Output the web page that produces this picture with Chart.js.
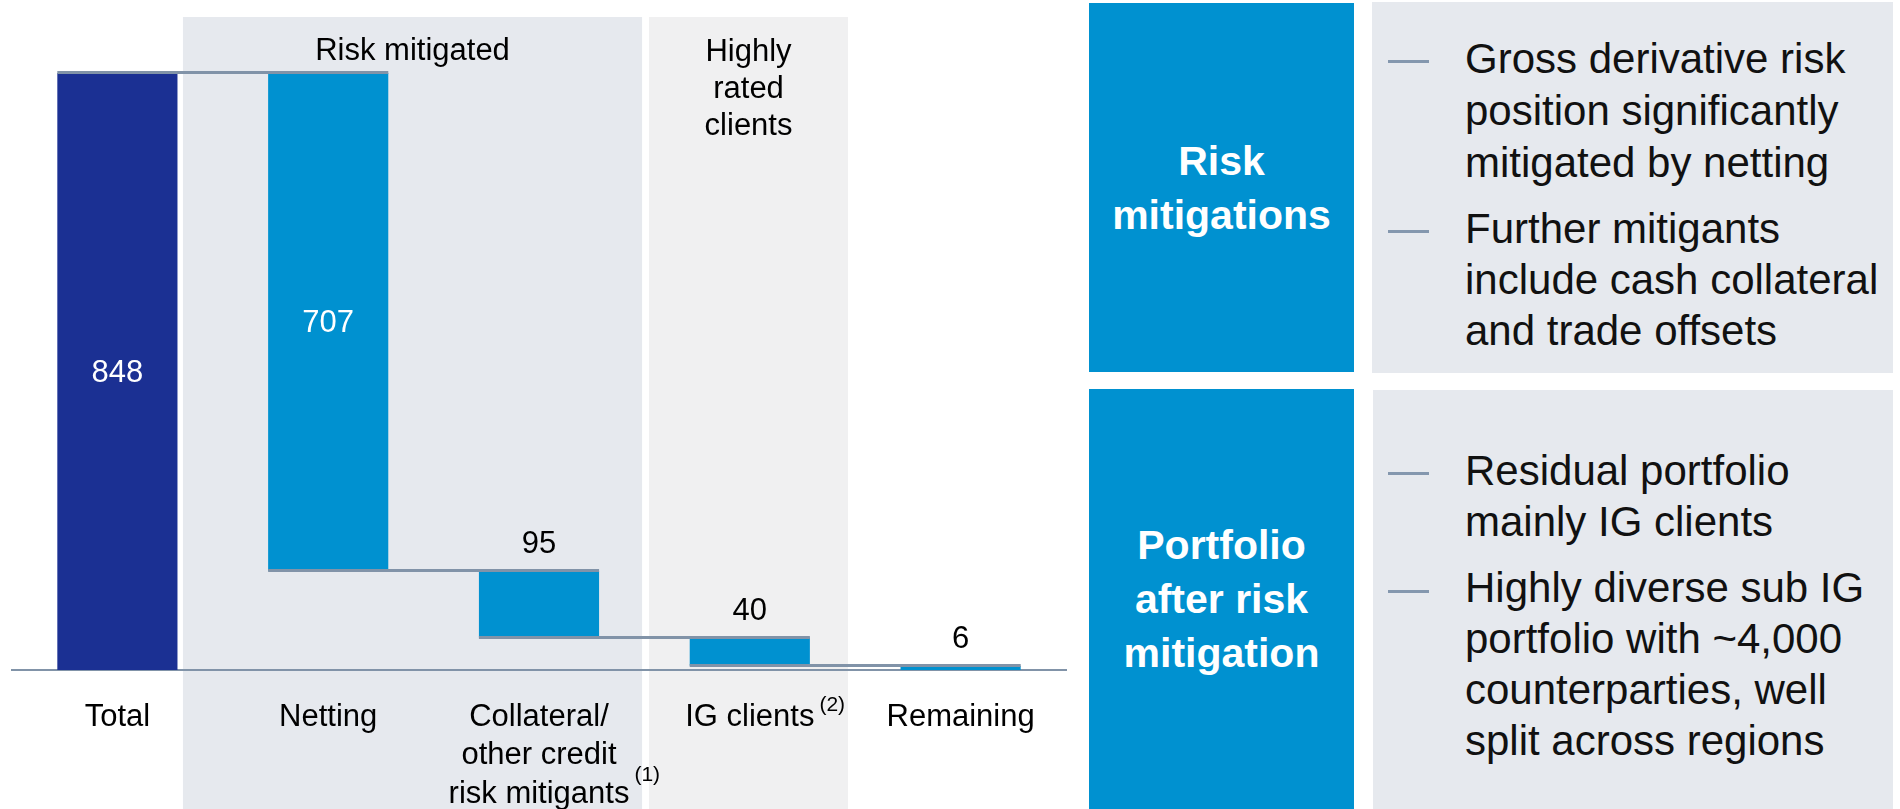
<!DOCTYPE html>
<html>
<head>
<meta charset="utf-8">
<script src="https://cdn.jsdelivr.net/npm/chart.js@4.4.0/dist/chart.umd.min.js"></script>
<style>
  html, body { margin: 0; padding: 0; background: #fff; }
  body { width: 1900px; height: 809px; position: relative; overflow: hidden; font-family: 'Liberation Sans', Arial, sans-serif; }
  #chart-wrap { position: absolute; left: 0; top: 0; width: 1080px; height: 809px; }
  .box { position: absolute; }
  .blue { background: #0091d0; color: #fff; font-weight: bold; font-size: 41px; line-height: 54px; text-align: center; display: flex; align-items: center; justify-content: center; }
  .grey { background: #e6e9ee; }
  .dash { position: absolute; left: 1388px; width: 41px; height: 3px; background: #8497ae; }
  .bullet { position: absolute; left: 1465px; font-size: 42px; line-height: 51px; color: #111; white-space: nowrap; }
</style>
</head>
<body>
<div id="chart-wrap"><canvas id="chart-waterfall"></canvas></div>

<div class="box blue" style="left:1089px;top:3px;width:265px;height:369px"><div>Risk<br>mitigations</div></div>
<div class="box grey" style="left:1372px;top:2px;width:521px;height:371px"></div>
<div class="box blue" style="left:1089px;top:389px;width:265px;height:420px"><div>Portfolio<br>after risk<br>mitigation</div></div>
<div class="box grey" style="left:1373px;top:390px;width:520px;height:419px"></div>

<div class="dash" style="top:60px"></div>
<div class="bullet" style="top:33px;line-height:52px">Gross derivative risk<br>position significantly<br>mitigated by netting</div>
<div class="dash" style="top:230px"></div>
<div class="bullet" style="top:203px">Further mitigants<br>include cash collateral<br>and trade offsets</div>
<div class="dash" style="top:472px"></div>
<div class="bullet" style="top:445px">Residual portfolio<br>mainly IG clients</div>
<div class="dash" style="top:590px"></div>
<div class="bullet" style="top:562px">Highly diverse sub IG<br>portfolio with ~4,000<br>counterparties, well<br>split across regions</div>

<script>
const categories = ['Total', 'Netting', ['Collateral/', 'other credit', 'risk mitigants'], 'IG clients', 'Remaining']
const footnotes = ['', '', '(1)', '(2)', '']
const values = [848, 707, 95, 40, 6]
const kinds = ['total', 'step', 'step', 'step', 'total']
const groupLabels = [['Risk mitigated'], ['Highly', 'rated', 'clients']]

const FONT = "'Liberation Sans', Arial, sans-serif"
const NAVY = '#1b3093'
const BLUE = '#0091d0'
const LINE = '#8193a8'

// floating ranges for the waterfall
let running = 0
const ranges = values.map((v, i) => {
  if (kinds[i] === 'total') {
    running = v
    return [0, v]
  }
  const r = [running - v, running]
  running -= v
  return r
})

const backdrop = {
  id: 'backdrop',
  beforeDraw(chart) {
    const { ctx, scales: { x } } = chart
    const step = x.getPixelForValue(1) - x.getPixelForValue(0)
    const panels = [
      { left: x.getPixelForValue(0) + 0.311 * step, right: x.getPixelForValue(2) + 0.489 * step, color: '#e6e9ee', lines: groupLabels[0], y: 51 },
      { left: x.getPixelForValue(3) - 0.478 * step, right: x.getPixelForValue(3) + 0.466 * step, color: '#f0f0f1', lines: groupLabels[1], y: 52 }
    ]
    ctx.save()
    panels.forEach((p) => {
      ctx.fillStyle = p.color
      ctx.fillRect(p.left, 17, p.right - p.left, chart.height - 17)
      ctx.fillStyle = '#000'
      ctx.font = `31px ${FONT}`
      ctx.textAlign = 'center'
      ctx.textBaseline = 'middle'
      p.lines.forEach((t, k) => ctx.fillText(t, (p.left + p.right) / 2, p.y + k * 37))
    })
    ctx.restore()
  }
}

const annotations = {
  id: 'annotations',
  afterDatasetsDraw(chart) {
    const { ctx, scales: { x, y } } = chart
    const bars = chart.getDatasetMeta(0).data
    ctx.save()
    // connector lines
    ctx.strokeStyle = LINE
    ctx.lineWidth = 3
    for (let i = 0; i < bars.length - 1; i++) {
      const a = bars[i], b = bars[i + 1]
      const py = Math.round(y.getPixelForValue(ranges[i + 1][1])) - 0.5
      ctx.beginPath()
      ctx.moveTo(a.x - a.width / 2, py)
      ctx.lineTo(b.x + b.width / 2, py)
      ctx.stroke()
    }
    // value labels
    ctx.font = `31px ${FONT}`
    ctx.textAlign = 'center'
    ctx.textBaseline = 'middle'
    bars.forEach((bar, i) => {
      const top = Math.min(bar.y, bar.base)
      const h = Math.abs(bar.base - bar.y)
      if (h > 100) {
        ctx.fillStyle = '#fff'
        ctx.fillText(values[i], bar.x, top + h / 2 + 2)
      } else {
        ctx.fillStyle = '#000'
        ctx.fillText(values[i], bar.x, top - 26)
      }
    })
    // footnote markers next to the category labels
    ctx.textAlign = 'left'
    bars.forEach((bar, i) => {
      if (!footnotes[i]) return
      const lab = categories[i]
      const lines = Array.isArray(lab) ? lab : [lab]
      ctx.font = `31px ${FONT}`
      const w = ctx.measureText(lines[lines.length - 1]).width
      ctx.font = `21px ${FONT}`
      ctx.fillStyle = '#000'
      const lastLineY = 714 + (lines.length - 1) * 38.4
      ctx.fillText(footnotes[i], x.getPixelForValue(i) + w / 2 + 5, lastLineY - (lines.length > 1 ? 16 : 9))
    })
    ctx.restore()
  }
}

new Chart(document.getElementById('chart-waterfall'), {
  type: 'bar',
  data: {
    labels: categories,
    datasets: [
      {
        data: ranges,
        backgroundColor: (c) => (c.dataIndex === 0 ? NAVY : BLUE),
        borderWidth: 0,
        borderSkipped: false,
        barPercentage: 0.57,
        categoryPercentage: 1
      }
    ]
  },
  options: {
    responsive: true,
    maintainAspectRatio: false,
    animation: false,
    layout: { padding: { top: 73, left: 12, right: 14, bottom: 0 } },
    plugins: { legend: { display: false }, tooltip: { enabled: false } },
    scales: {
      x: {
        grid: { display: false, drawTicks: false },
        border: { display: true, color: LINE, width: 2 },
        ticks: {
          color: '#000',
          padding: 28,
          autoSkip: false,
          maxRotation: 0,
          font: { family: FONT, size: 31, lineHeight: 1.24 }
        },
        afterFit: (scale) => { scale.height = 139 }
      },
      y: { display: false, min: 0, max: 848 }
    }
  },
  plugins: [backdrop, annotations]
})
</script>
</body>
</html>
